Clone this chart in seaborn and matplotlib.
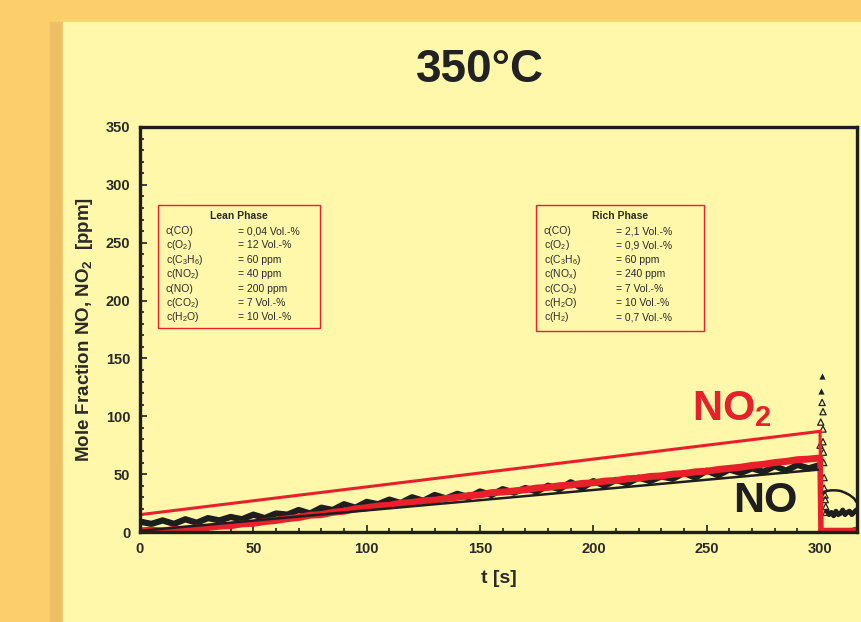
import numpy as np
import pandas as pd
import seaborn as sns
import matplotlib.pyplot as plt
from matplotlib.patches import Rectangle

# lean phase, 5 s steps
t_lean = list(range(0, 305, 5))
no_meas = [9, 7, 10, 7, 11, 8, 12, 10, 13, 11, 15, 12, 16, 15, 19, 16, 21, 19, 24, 21,
           26, 24, 28, 25, 30, 27, 32, 29, 33, 30, 35, 32, 37, 34, 38, 35, 40, 37, 43, 38,
           44, 40, 45, 42, 47, 44, 48, 46, 51, 47, 53, 49, 54, 51, 55, 52, 57, 53, 58, 55, 58]
no2_meas = [1, 1.5, 1, 2, 2.5, 3.5, 4, 5, 5.5, 7, 7.5, 9, 10, 11.5, 12.5, 14.5, 15, 17, 18, 20,
            21, 22.5, 23, 25, 25.5, 27, 27.5, 29, 30, 31.5, 32, 34, 34.5, 35.5, 36.5, 38, 38.5, 40, 40.5, 42,
            42.5, 44, 44.5, 46, 46.5, 48, 48.5, 50, 50.5, 52, 52.5, 54, 55, 56, 57.5, 58.5, 60, 61, 62.5, 63, 64]

# straight lines
t_no2_ref = [0, 300, 300.4]
no2_ref = [15, 87, 0]
t_no_ref = [0, 300]
no_ref = [1, 54]

# rich phase
t_rich = [300.4, 302, 304, 306, 308, 310, 312, 314, 316]
no2_rich = [1, 1, 1, 1, 1, 1, 1, 1, 2]
t_no_rich = [303, 304, 305, 306, 307, 308, 309, 310, 311, 312, 313, 314, 315, 316]
no_rich = [18, 15, 17, 14, 18, 15, 16, 19, 15, 17, 18, 15, 17, 19]
t_arc = [301.5, 303, 305, 307, 309, 311, 313, 315, 316]
no_arc = [34, 35.5, 36, 36, 35.5, 34, 32, 29, 26]

# NO peak after the switch (triangles)
t_peak = [300.7, 300.6, 300.9, 301.3, 300.3, 301.3, 300.0, 301.3, 301.5, 301.6, 301.8, 301.8, 302.2, 302.3, 302.5, 302.6]
no_peak = [135, 122, 112, 104, 95, 89, 75, 78, 69, 60, 47, 38, 32, 28, 22, 17]

lean_rows = [("c(CO)", "= 0,04 Vol.-%"), ("c(O$_2$)", "= 12 Vol.-%"), ("c(C$_3$H$_6$)", "= 60 ppm"),
             ("c(NO$_2$)", "= 40 ppm"), ("c(NO)", "= 200 ppm"), ("c(CO$_2$)", "= 7 Vol.-%"),
             ("c(H$_2$O)", "= 10 Vol.-%")]
rich_rows = [("c(CO)", "= 2,1 Vol.-%"), ("c(O$_2$)", "= 0,9 Vol.-%"), ("c(C$_3$H$_6$)", "= 60 ppm"),
             ("c(NO$_x$)", "= 240 ppm"), ("c(CO$_2$)", "= 7 Vol.-%"), ("c(H$_2$O)", "= 10 Vol.-%"),
             ("c(H$_2$)", "= 0,7 Vol.-%")]

sns.set_style("ticks")
plt.rcParams['font.family'] = ['Liberation Sans', 'DejaVu Sans']
plt.rcParams['mathtext.default'] = 'regular'

red = '#E8202A'
dark = '#1E1E1E'
panel = '#FFF8AA'

fig = plt.figure(figsize=(8.61, 6.22), dpi=100, facecolor='#FCCF6C')
fig.patches.append(Rectangle((50 / 861, 0), 13 / 861, 600 / 622, transform=fig.transFigure,
                             color='#EDC068', zorder=-10))
fig.patches.append(Rectangle((63 / 861, 0), 1, 600 / 622, transform=fig.transFigure,
                             color=panel, zorder=-10))

ax = fig.add_axes([140 / 861, 90 / 622, 717 / 861, 405 / 622])
ax.set_facecolor('none')
ax.set_zorder(5)

sns.lineplot(x=t_lean, y=no_meas, ax=ax, color=dark, lw=4.5)
sns.lineplot(x=t_no_rich, y=no_rich, ax=ax, color=dark, lw=3.5)
sns.lineplot(x=t_lean, y=no2_meas, ax=ax, color=red, lw=5)
sns.lineplot(x=t_rich, y=no2_rich, ax=ax, color=red, lw=4.5)
ax.plot([300, 300.4], [64, 1], color=red, lw=4)
sns.lineplot(x=t_no_ref, y=no_ref, ax=ax, color=dark, lw=1.8)
sns.lineplot(x=t_arc, y=no_arc, ax=ax, color=dark, lw=1.8)
sns.lineplot(x=t_no2_ref, y=no2_ref, ax=ax, color=red, lw=2.2)
sns.scatterplot(x=t_peak[:2], y=no_peak[:2], ax=ax, marker='^', color=dark, s=20, linewidth=0)
sns.scatterplot(x=t_peak[2:], y=no_peak[2:], ax=ax, marker='^', facecolor='none',
                edgecolor=dark, s=20, linewidth=0.9)

ax.set_xlim(0, 316.3)
ax.set_ylim(0, 350)
ax.set_xticks(range(0, 301, 50))
ax.set_xticks(range(0, 317, 10), minor=True)
ax.set_yticks(range(0, 351, 50))
ax.set_yticks(range(0, 351, 10), minor=True)
ax.tick_params(which='both', direction='in', width=1.2, colors=dark, labelcolor='#2A2A2A')
ax.tick_params(which='major', length=5, labelsize=10.5, pad=7)
ax.tick_params(which='minor', length=3)
for lab in ax.get_xticklabels() + ax.get_yticklabels():
    lab.set_fontweight('bold')
for sp in ax.spines.values():
    sp.set_linewidth(2.4)
    sp.set_color(dark)

ax.set_xlabel("t [s]", fontsize=14, fontweight='bold', color='#2A2A2A', labelpad=10)
ax.set_ylabel("Mole Fraction NO, NO$_2$  [ppm]", fontsize=13.5, fontweight='bold',
              color='#2A2A2A', labelpad=8)
fig.text(480 / 861, 1 - 70 / 622, "350°C", fontsize=33, fontweight='bold', color='#222222',
         ha='center', va='center')

ax.text(261, 106, "NO$_2$", fontsize=30, fontweight='bold', color=red, ha='center', va='center')
ax.text(276, 27, "NO", fontsize=31, fontweight='bold', color=dark, ha='center', va='center')


def info_box(x0, x1, y0, y1, xv, title, rows):
    ax.add_patch(Rectangle((x0, y0), x1 - x0, y1 - y0, transform=ax.transAxes, fill=False,
                           edgecolor=red, lw=1.0))
    ax.text((x0 + x1) / 2, y1 - 0.027, title, transform=ax.transAxes, fontsize=7.5,
            fontweight='bold', color='#2A2A2A', ha='center', va='center')
    for i, (name, val) in enumerate(rows):
        y = y1 - 0.064 - i * 0.0355
        ax.text(x0 + 0.011, y, name, transform=ax.transAxes, fontsize=7.5, color='#2A2A2A', va='center')
        ax.text(xv, y, val, transform=ax.transAxes, fontsize=7.5, color='#2A2A2A', va='center')


info_box(0.025, 0.251, 0.504, 0.807, 0.137, "Lean Phase", lean_rows)
info_box(0.552, 0.787, 0.496, 0.807, 0.664, "Rich Phase", rich_rows)

fig.savefig("out.png", dpi=100, facecolor=fig.get_facecolor())
